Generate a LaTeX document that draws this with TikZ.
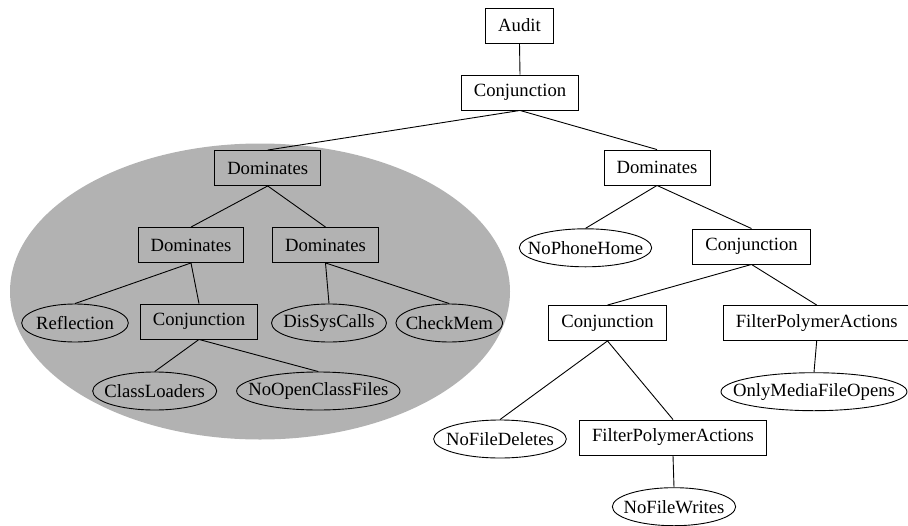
\documentclass[tikz,border=0pt]{standalone}
\usepackage{fontspec}
\setmainfont{LiberationSerif}[Extension=.ttf, UprightFont=*-Regular, BoldFont=*-Bold]
\usetikzlibrary{shapes.geometric}
\definecolor{groupgray}{gray}{0.70}
\tikzset{
  box/.style={draw, rectangle, line width=0.9pt, inner xsep=12.5pt, inner ysep=0pt,
    minimum height=35pt, font=\fontsize{18.67}{20}\selectfont},
  leaf/.style={draw, ellipse, line width=0.9pt, inner sep=0pt, minimum height=38pt,
    minimum width=#1, font=\fontsize{18.67}{20}\selectfont},
  shaded/.style={fill=groupgray},
  edge/.style={line width=0.9pt}
}
% ellipse labels take no width of their own, so the given size holds
\newcommand{\lbl}[1]{\makebox[0pt]{#1}}
\begin{document}
\begin{tikzpicture}[x=1pt,y=-1pt]
\useasboundingbox (0,0) rectangle (908,525);
\clip (0,0) rectangle (908,525);
\fill[groupgray] (260,291.5) ellipse [x radius=250, y radius=148];

% top of the tree
\node[box] (audit) at (519.5,25.5) {Audit};
\node[box] (conj0) at (520,92.5) {Conjunction};

% shaded group
\node[box,shaded] (domA) at (267.7,168) {Dominates};
\node[box,shaded] (domB) at (191,245) {Dominates};
\node[box,shaded] (domC) at (325.5,245) {Dominates};
\node[leaf=106.6pt,shaded] (refl) at (75,323) {\lbl{Reflection}};
\node[box,shaded] (conj1) at (199,321.5) {Conjunction};
\node[leaf=115pt,shaded] (dis) at (329,323) {\lbl{DisSysCalls}};
\node[leaf=106.7pt,shaded] (check) at (449.3,323) {\lbl{CheckMem}};
\node[leaf=124pt,shaded] (classl) at (154.7,391) {\lbl{ClassLoaders}};
\node[leaf=163.3pt,shaded] (noopen) at (318.3,391) {\lbl{NoOpenClassFiles}};

% right branch
\node[box] (domR) at (657,167.5) {Dominates};
\node[leaf=132.4pt] (nophone) at (585.5,247.8) {\lbl{NoPhoneHome}};
\node[box] (conj2) at (751.5,246.5) {Conjunction};
\node[box] (conj3) at (607.5,323) {Conjunction};
\node[box] (fpa1) at (816.7,323) {FilterPolymerActions};
\node[leaf=186pt] (only) at (814,391.7) {\lbl{OnlyMediaFileOpens}};
\node[leaf=132.7pt] (nodel) at (500,439) {\lbl{NoFileDeletes}};
\node[box] (fpa2) at (673,437.5) {FilterPolymerActions};
\node[leaf=123.3pt] (nowrite) at (674,506.7) {\lbl{NoFileWrites}};

% connectors
\foreach \a/\b in {audit/conj0, conj0/domA, conj0/domR,
    domA/domB, domA/domC, domB/refl, domB/conj1, domC/dis, domC/check,
    conj1/classl, conj1/noopen,
    domR/nophone, domR/conj2, conj2/conj3, conj2/fpa1, fpa1/only,
    conj3/nodel, conj3/fpa2, fpa2/nowrite}
  \draw[edge] (\a.south) -- (\b.north);
\end{tikzpicture}
\end{document}
